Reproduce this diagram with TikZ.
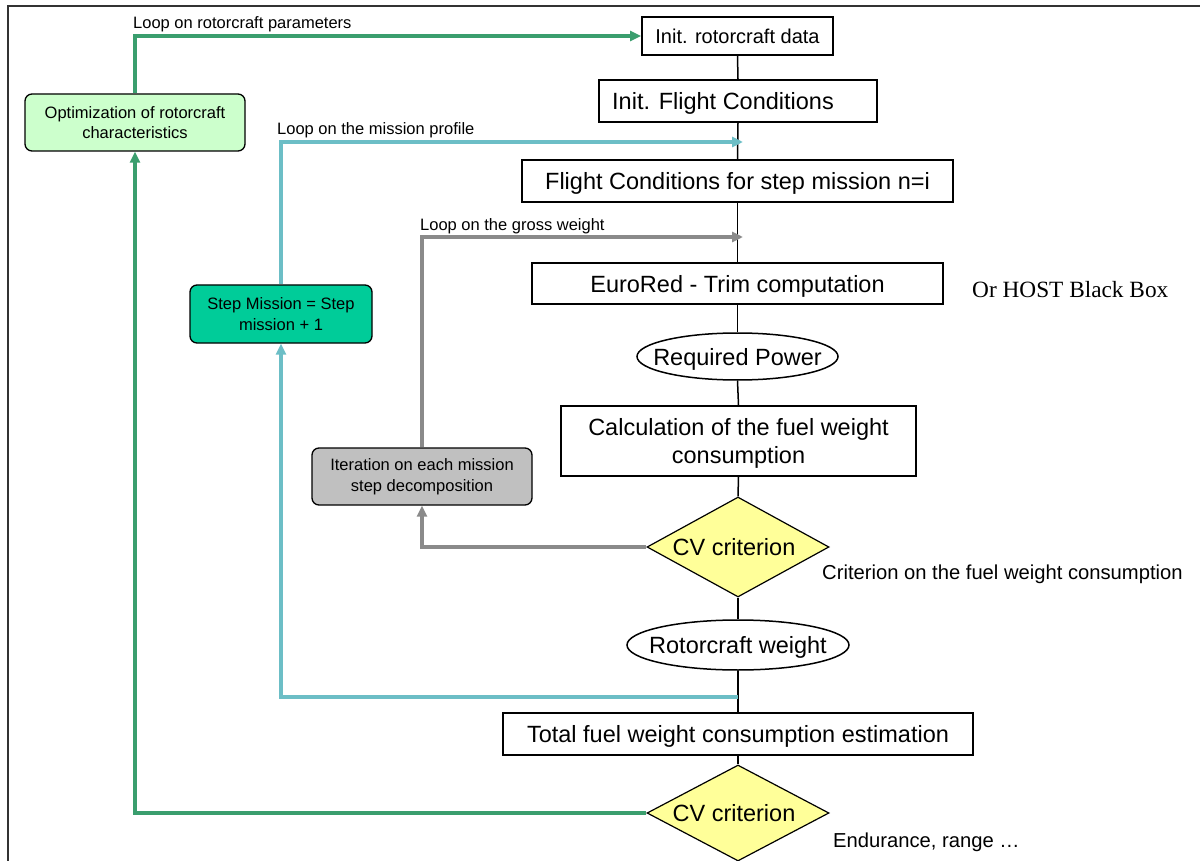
\documentclass[tikz,border=0pt]{standalone}
\usepackage{fontspec}
\setmainfont{Liberation Sans}
\newfontfamily\serifface{Liberation Serif}
\usetikzlibrary{shapes.geometric,arrows.meta}
\definecolor{loopgreen}{HTML}{3A9E6E}
\definecolor{loopcyan}{HTML}{6CBEC6}
\definecolor{loopgray}{HTML}{8A8A8A}
\definecolor{optfill}{HTML}{CCFFCC}
\definecolor{stepfill}{HTML}{00CC99}
\definecolor{iterfill}{HTML}{C0C0C0}
\definecolor{cvfill}{HTML}{FFFF99}
\newcommand\mainsz{\fontsize{23.5}{28}\selectfont}
\newcommand\midsz{\fontsize{20.2}{24}\selectfont}
\newcommand\smallsz{\fontsize{16.5}{20.5}\selectfont}
\begin{document}
\begin{tikzpicture}[x=1pt,y=-1pt,
  flowbox/.style={draw=black,line width=1.8pt,rectangle,inner sep=0pt,align=center,font=\mainsz},
  onebox/.style={flowbox,text depth=0pt},
  flowell/.style={draw=black,line width=1.5pt,ellipse,inner sep=0pt},
  elltext/.style={font=\mainsz,text depth=0pt,inner sep=0pt},
  cvdiam/.style={draw=black,line width=1.2pt,diamond,fill=cvfill,inner sep=0pt},
  cvtext/.style={font=\fontsize{23.5}{28}\selectfont,text depth=0pt,inner sep=0pt,xshift=-4pt},
  sidebox/.style={draw=black,line width=1.3pt,rectangle,rounded corners=7pt,inner sep=0pt,align=center,font=\smallsz},
  flowline/.style={draw=black,line width=1.5pt},
  loopline/.style={line width=3.5pt,-{Triangle[length=11pt,width=10pt]}},
  looplabel/.style={font=\smallsz,anchor=base west,inner sep=0pt},
  sidelabel/.style={font=\midsz,anchor=west,inner sep=0pt}]
\useasboundingbox (0,0) rectangle (1200,861);
% frame
\draw[line width=1.6pt,black!80] (8,870) -- (8,6) -- (1210,6);

% main flow
\node[onebox,font=\fontsize{20}{24}\selectfont,minimum width=191pt,minimum height=38pt] (init) at (737.5,36) {Init. rotorcraft data};
\node[onebox,minimum width=278pt,minimum height=42pt] (ifc) at (738,101) {Init. Flight Conditions\hspace*{30pt}};
\node[onebox,minimum width=431pt,minimum height=42pt] (fcs) at (737.5,181) {Flight Conditions for step mission n=i};
\node[onebox,minimum width=411pt,minimum height=41pt] (euro) at (737.5,283.5) {EuroRed - Trim computation};
\node[flowell,minimum width=201pt,minimum height=47pt,label={[elltext]center:Required Power}] (reqp) at (737.5,356.5) {};
\node[onebox,minimum width=355pt,minimum height=70pt] (calc) at (738.5,441) {Calculation of the fuel weight\\consumption};
\node[cvdiam,minimum width=182pt,minimum height=100pt,label={[cvtext]center:CV criterion}] (cv1) at (738,547) {};
\node[flowell,minimum width=222pt,minimum height=50pt,label={[elltext]center:Rotorcraft weight}] (rotw) at (738,645) {};
\node[onebox,minimum width=470pt,minimum height=42pt] (total) at (738,734) {Total fuel weight consumption estimation};
\node[cvdiam,minimum width=182pt,minimum height=96pt,label={[cvtext]center:CV criterion}] (cv2) at (738,813) {};

% side boxes
\node[sidebox,fill=optfill,minimum width=220pt,minimum height=57pt] (opt) at (135,122.5) {Optimization of rotorcraft\\characteristics};
\node[sidebox,fill=stepfill,minimum width=182pt,minimum height=58pt] (step) at (281,314) {Step Mission = Step\\mission + 1};
\node[sidebox,fill=iterfill,minimum width=220pt,minimum height=57pt] (iter) at (422,476.5) {Iteration on each mission\\step decomposition};

% side labels
\node[sidelabel,font=\serifface\fontsize{23.3}{27}\selectfont] (host) at (972,290) {Or HOST Black Box};
\node[sidelabel] (crit) at (822,574) {Criterion on the fuel weight consumption};
\node[sidelabel] (endu) at (833,842) {Endurance, range …};

% coordinates on the main line
\coordinate (mp) at (743,142);
\coordinate (gw) at (743,237);
\coordinate (rw) at (738,697);

% main vertical line
\draw[flowline] (init.south) -- (ifc.north);
\draw[flowline] (ifc.south) -- (fcs.north);
\draw[flowline] (fcs.south) -- (euro.north);
\draw[flowline] (euro.south) -- (reqp.north);
\draw[flowline] (reqp.south) -- (calc.north);
\draw[flowline] (calc.south) -- (cv1.north);
\draw[flowline] (cv1.south) -- (rotw.north);
\draw[flowline] (rotw.south) -- (total.north);
\draw[flowline] (total.south) -- (cv2.north);

% loops
\draw[loopline,loopgreen] (cv2.west) -| (opt.south);
\draw[loopline,loopgreen] (opt.north) |- (init.west);
\draw[loopline,loopcyan] (rw) -| (step.south);
\draw[loopline,loopcyan] (step.north) |- (mp);
\draw[loopline,loopgray] (cv1.west) -| (iter.south);
\draw[loopline,loopgray] (iter.north) |- (gw);

% loop labels
\node[looplabel] (lrp) at (133,29) {Loop on rotorcraft parameters};
\node[looplabel] (lmp) at (277,135) {Loop on the mission profile};
\node[looplabel] (lgw) at (420,231) {Loop on the gross weight};
\end{tikzpicture}
\end{document}
